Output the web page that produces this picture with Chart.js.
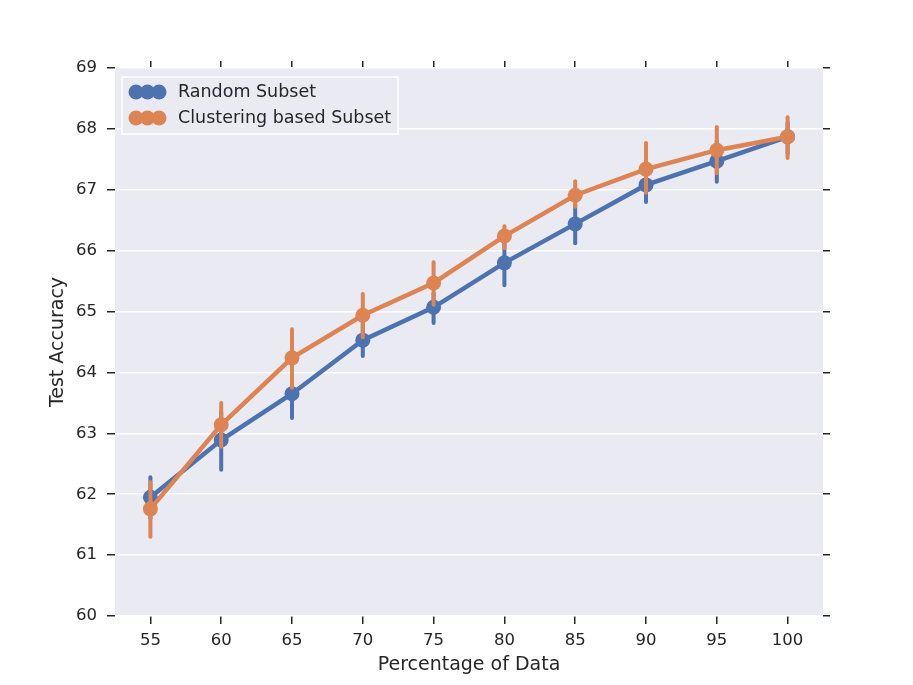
<!DOCTYPE html>
<html>
<head>
<meta charset="utf-8">
<script src="https://cdn.jsdelivr.net/npm/chart.js@4"></script>
<style>
  html, body { margin: 0; padding: 0; background: #fff; }
  #wrap { width: 913px; height: 685px; }
</style>
</head>
<body>
<div id="wrap"><canvas id="chart" width="913" height="685"></canvas></div>
<script>
// Data
const percentages = ['55', '60', '65', '70', '75', '80', '85', '90', '95', '100'];
const randomMean = [61.95, 62.89, 63.65, 64.53, 65.07, 65.80, 66.44, 67.08, 67.47, 67.87];
const randomLow  = [61.60, 62.40, 63.25, 64.27, 64.81, 65.43, 66.12, 66.80, 67.13, 67.60];
const randomHigh = [62.28, 63.35, 64.00, 64.80, 65.30, 66.15, 66.75, 67.35, 67.80, 68.10];
const clusterMean = [61.76, 63.14, 64.24, 64.94, 65.47, 66.24, 66.91, 67.34, 67.65, 67.87];
const clusterLow  = [61.30, 62.78, 63.75, 64.58, 65.11, 66.04, 66.72, 66.95, 67.27, 67.52];
const clusterHigh = [62.20, 63.50, 64.71, 65.29, 65.81, 66.40, 67.14, 67.77, 68.03, 68.19];
const yTicks = [60, 61, 62, 63, 64, 65, 66, 67, 68, 69];

const BLUE = '#4C72B0';
const ORANGE = '#DD8452';
const FONT = 'DejaVu Sans';
const TEXT = '#262626';

// Plot background behind everything
const plotBg = {
  id: 'plotBg',
  beforeDraw(chart) {
    const { ctx, chartArea: a } = chart;
    ctx.save();
    ctx.fillStyle = '#EAEAF2';
    ctx.fillRect(a.left, a.top, a.right - a.left, a.bottom - a.top);
    ctx.restore();
  }
};

// Vertical error bars, drawn just before each dataset's line
const errorBars = {
  id: 'errorBars',
  beforeDatasetDraw(chart, args) {
    const ds = chart.data.datasets[args.index];
    if (!ds.low) return;
    const { ctx } = chart;
    const y = chart.scales.y;
    ctx.save();
    ctx.strokeStyle = ds.borderColor;
    ctx.lineWidth = 4;
    ctx.lineCap = 'round';
    args.meta.data.forEach((pt, i) => {
      ctx.beginPath();
      ctx.moveTo(pt.x, y.getPixelForValue(ds.low[i]));
      ctx.lineTo(pt.x, y.getPixelForValue(ds.high[i]));
      ctx.stroke();
    });
    ctx.restore();
  }
};

// Axis titles placed like matplotlib does
const axisTitles = {
  id: 'axisTitles',
  afterDraw(chart) {
    const { ctx, chartArea: a } = chart;
    ctx.save();
    ctx.fillStyle = TEXT;
    ctx.font = '19px "' + FONT + '"';
    ctx.textAlign = 'center';
    ctx.textBaseline = 'middle';
    ctx.fillText('Percentage of Data', (a.left + a.right) / 2, a.bottom + 49);
    ctx.translate(a.left - 57, (a.top + a.bottom) / 2);
    ctx.rotate(-Math.PI / 2);
    ctx.fillText('Test Accuracy', 0, 0);
    ctx.restore();
  }
};

// Seaborn-style legend with three dots per entry
const dotLegend = {
  id: 'dotLegend',
  afterDraw(chart) {
    const { ctx, chartArea: a } = chart;
    const x0 = a.left + 7, y0 = a.top + 9;
    ctx.save();
    ctx.fillStyle = '#EAEAF2';
    ctx.strokeStyle = '#ffffff';
    ctx.lineWidth = 1.5;
    ctx.fillRect(x0, y0, 276, 57);
    ctx.strokeRect(x0, y0, 276, 57);
    const items = [['Random Subset', BLUE], ['Clustering based Subset', ORANGE]];
    items.forEach(([label, color], k) => {
      const cy = y0 + 15 + k * 26;
      ctx.fillStyle = color;
      [14, 25.5, 37].forEach(dx => {
        ctx.beginPath();
        ctx.arc(x0 + dx, cy, 7.5, 0, Math.PI * 2);
        ctx.fill();
      });
      ctx.fillStyle = TEXT;
      ctx.font = '17.5px "' + FONT + '"';
      ctx.textBaseline = 'middle';
      ctx.fillText(label, x0 + 56, cy);
    });
    ctx.restore();
  }
};

const tickFont = { family: FONT, size: 16.5 };

new Chart(document.getElementById('chart'), {
  type: 'line',
  data: {
    labels: percentages,
    datasets: [
      {
        label: 'Random Subset',
        data: randomMean,
        low: randomLow,
        high: randomHigh,
        borderColor: BLUE,
        backgroundColor: BLUE,
        borderWidth: 4.5,
        pointRadius: 7.5,
        pointBorderWidth: 0,
        tension: 0,
        order: 2
      },
      {
        label: 'Clustering based Subset',
        data: clusterMean,
        low: clusterLow,
        high: clusterHigh,
        borderColor: ORANGE,
        backgroundColor: ORANGE,
        borderWidth: 4.5,
        pointRadius: 7.5,
        pointBorderWidth: 0,
        tension: 0,
        order: 1
      }
    ]
  },
  options: {
    responsive: false,
    animation: false,
    layout: { padding: { top: 60, right: 82, left: 0, bottom: 0 } },
    plugins: {
      legend: { display: false },
      tooltip: { enabled: false }
    },
    scales: {
      x: {
        type: 'category',
        offset: true,
        border: { display: false },
        grid: { drawOnChartArea: false, tickColor: TEXT, tickLength: 8, lineWidth: 1.5 },
        ticks: { color: TEXT, font: tickFont, padding: 7 },
        afterFit(s) { s.height = 69; }
      },
      x2: {
        type: 'category',
        position: 'top',
        offset: true,
        labels: percentages,
        border: { display: false },
        grid: { drawOnChartArea: false, tickColor: TEXT, tickLength: 7, lineWidth: 1.5 },
        ticks: { display: false },
        afterFit(s) { s.height = 8; }
      },
      y: {
        min: 60,
        max: 69,
        border: { display: false },
        afterBuildTicks(s) { s.ticks = yTicks.map(v => ({ value: v })); },
        grid: { color: '#ffffff', lineWidth: 1.5, tickColor: TEXT, tickLength: 8 },
        ticks: { color: TEXT, font: tickFont, padding: 10 },
        afterFit(s) { s.width = 115; }
      },
      y2: {
        position: 'right',
        min: 60,
        max: 69,
        border: { display: false },
        afterBuildTicks(s) { s.ticks = yTicks.map(v => ({ value: v })); },
        grid: { drawOnChartArea: false, tickColor: TEXT, tickLength: 7, lineWidth: 1.5 },
        ticks: { display: false },
        afterFit(s) { s.width = 8; }
      }
    }
  },
  plugins: [plotBg, errorBars, axisTitles, dotLegend]
});
</script>
</body>
</html>
